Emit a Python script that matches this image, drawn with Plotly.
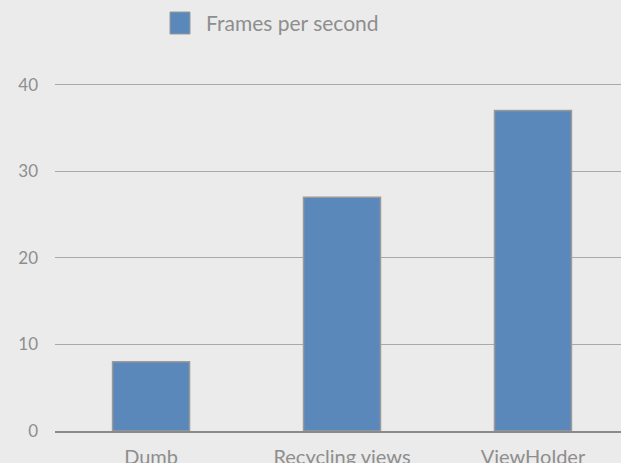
import plotly.graph_objects as go

categories = ["Dumb", "Recycling views", "ViewHolder"]
fps_values = [8, 27, 37]
series_name = "Frames per second"
y_ticks = [0, 10, 20, 30, 40]

BAR = "#5a88ba"
TXT = "#8e8e8e"
FONT = "Lato, 'Open Sans', sans-serif"

fig = go.Figure()
fig.add_trace(go.Bar(
    x=categories, y=fps_values, name=series_name,
    marker=dict(color=BAR, line=dict(color="#9a9a9a", width=1.5)),
    showlegend=False,
))

PH = 349.0  # plot height in px
# legend swatch + label (larger than plotly's built-in bar legend symbol)
fig.add_shape(type="rect", xref="paper", yref="paper",
              x0=(170 - 55) / 566, x1=(190 - 55) / 566,
              y0=(431 - 34) / PH, y1=(431 - 12) / PH,
              fillcolor=BAR, line=dict(color="#9a9a9a", width=1))
fig.add_annotation(xref="paper", yref="paper", x=(204 - 55) / 566, y=(431 - 22.5) / PH,
                   xanchor="left", yanchor="middle", showarrow=False,
                   text=series_name, font=dict(family=FONT, size=21, color=TXT))

fig.update_layout(
    width=621, height=463,
    margin=dict(l=55, r=0, t=82, b=32),
    paper_bgcolor="#ebebeb", plot_bgcolor="#ebebeb",
    bargap=0.597,
    font=dict(family=FONT, color=TXT),
    xaxis=dict(range=[-0.503, 2.461], showgrid=False, showline=True,
               linecolor="#8a8a8a", linewidth=1.5, ticks="",
               tickfont=dict(size=20, color=TXT), ticklabelstandoff=7,
               automargin=False, fixedrange=True),
    yaxis=dict(range=[0, 40.3], tickvals=y_ticks, showgrid=True,
               gridcolor="#a9a9a9", gridwidth=1.2, zeroline=False,
               showline=False, ticks="", tickfont=dict(size=17, color=TXT),
               ticklabelstandoff=16, automargin=False),
)

fig.write_html("out.html", config={"displayModeBar": False},
               post_script="document.body.style.margin='0';")
